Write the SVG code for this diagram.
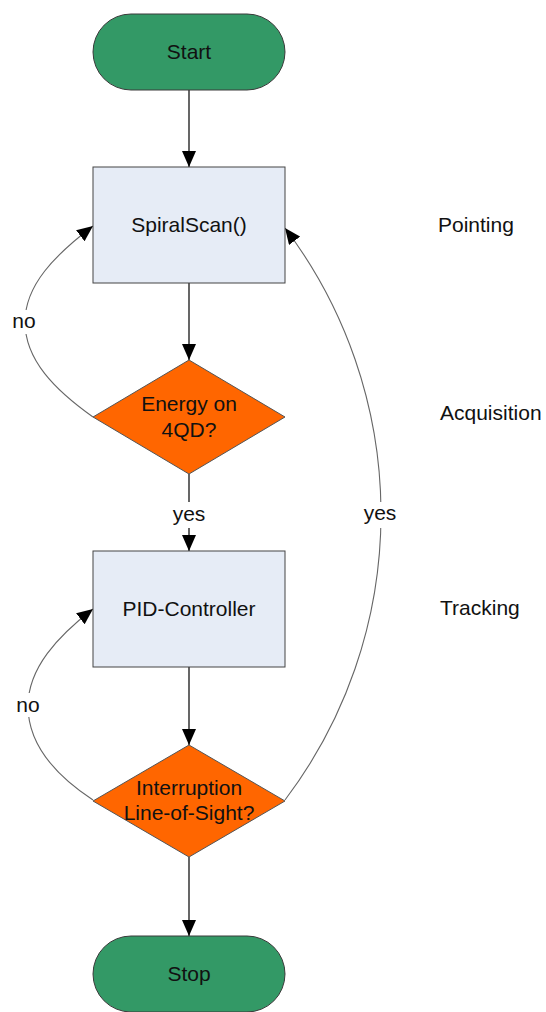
<svg xmlns="http://www.w3.org/2000/svg" width="546" height="1012" viewBox="0 0 546 1012">
<style>
text{font-family:"Liberation Sans",Arial,sans-serif;font-size:21px;fill:#111}
.c{text-anchor:middle}
.term{fill:#339966;stroke:#3a3a3a;stroke-width:1}
.box{fill:#E6ECF6;stroke:#444;stroke-width:1}
.dec{fill:#FF6600;stroke:#555;stroke-width:1}
.v{stroke:#000;stroke-width:1.2;fill:none}
.loop{stroke:#666;stroke-width:1.1;fill:none}
.lbl{fill:#fff;stroke:none}
</style>
<defs>
<marker id="ah" viewBox="0 0 16 14" refX="16" refY="7" markerWidth="16" markerHeight="14" markerUnits="userSpaceOnUse" orient="auto">
<path d="M0,0 L16,7 L0,14 Z" fill="#000"/>
</marker>
</defs>
<g id="connectors">
<path class="v" d="M189,90 V167" marker-end="url(#ah)"/>
<path class="v" d="M189,283 V360" marker-end="url(#ah)"/>
<path class="v" d="M189,474 V551" marker-end="url(#ah)"/>
<path class="v" d="M189,667 V745" marker-end="url(#ah)"/>
<path class="v" d="M189,857 V936" marker-end="url(#ah)"/>
<path class="loop" d="M93,417 C55,390 25,360 25,322 C25,285 55,255 93,226" marker-end="url(#ah)"/>
<path class="loop" d="M93,800 C55,775 28,745 28,706 C28,668 58,636 93,609" marker-end="url(#ah)"/>
<path class="loop" d="M285,800 A474,474 0 0 0 285,228" marker-end="url(#ah)"/>
<rect class="lbl" x="10" y="310" width="30" height="24"/>
<text class="c" x="24" y="328">no</text>
<rect class="lbl" x="14" y="693" width="30" height="24"/>
<text class="c" x="28" y="712">no</text>
<rect class="lbl" x="170" y="502" width="38" height="26"/>
<text class="c" x="189" y="521">yes</text>
<rect class="lbl" x="361" y="502" width="38" height="26"/>
<text class="c" x="380" y="520">yes</text>
</g>
<g id="start">
<rect class="term" x="93" y="14" width="192" height="76" rx="38" ry="38"/>
<text class="c" x="189" y="59">Start</text>
</g>
<g id="spiralscan">
<rect class="box" x="93" y="167" width="192" height="116"/>
<text class="c" x="189" y="232">SpiralScan()</text>
</g>
<g id="energy">
<polygon class="dec" points="189,360 285,417 189,474 93,417"/>
<text class="c" x="189" y="411">Energy on</text>
<text class="c" x="189" y="437">4QD?</text>
</g>
<g id="pid">
<rect class="box" x="93" y="551" width="192" height="116"/>
<text class="c" x="189" y="616">PID-Controller</text>
</g>
<g id="interruption">
<polygon class="dec" points="189,745 285,801 189,857 93,801"/>
<text class="c" x="189" y="795">Interruption</text>
<text class="c" x="189" y="820">Line-of-Sight?</text>
</g>
<g id="stop">
<rect class="term" x="93" y="936" width="192" height="76" rx="38" ry="38"/>
<text class="c" x="189" y="981">Stop</text>
</g>
<g id="phases">
<text x="438" y="232">Pointing</text>
<text x="440" y="420">Acquisition</text>
<text x="440" y="615">Tracking</text>
</g>
</svg>
